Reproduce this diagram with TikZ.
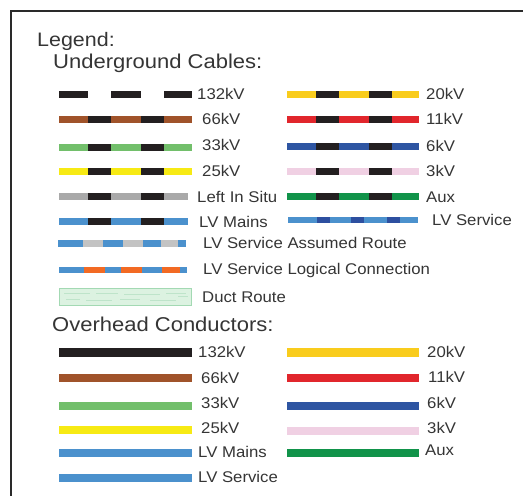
\documentclass[tikz,border=0pt]{standalone}
\usepackage{fontspec}
\setmainfont{Liberation Sans}[FakeStretch=1.08]
\newfontfamily\headfont{Liberation Sans}[FakeStretch=1.1]
\definecolor{txt}{HTML}{353535}
\definecolor{framec}{HTML}{2A2A2A}
\definecolor{blk}{HTML}{231F20}
\definecolor{brn}{HTML}{A0532A}
\definecolor{lgr}{HTML}{72BF6B}
\definecolor{yel}{HTML}{F7EA14}
\definecolor{gold}{HTML}{F9CC1D}
\definecolor{redc}{HTML}{E1262C}
\definecolor{dblu}{HTML}{2E55A2}
\definecolor{pink}{HTML}{F0D0E3}
\definecolor{agrn}{HTML}{11934A}
\definecolor{lvb}{HTML}{4B91CD}
\definecolor{lvdk}{HTML}{2D4FA0}
\definecolor{gry}{HTML}{A9A9A9}
\definecolor{lgry}{HTML}{C3C3C3}
\definecolor{orng}{HTML}{F26A23}
\definecolor{ductf}{HTML}{DCF2E1}
\definecolor{ductd}{HTML}{A3D9B3}
\newcommand{\ugbar}[5]{%
  \fill[#4] (#1,#3-3.5) rectangle (#2,#3+3.5);
  \fill[#5] (#1+29,#3-3.5) rectangle (#1+52,#3+3.5);
  \fill[#5] (#1+82,#3-3.5) rectangle (#1+105,#3+3.5);}
\newcommand{\ohbar}[4]{%
  \fill[#4] (#1,#3-4.2) rectangle (#2,#3+4.2);}
\begin{document}
\begin{tikzpicture}[x=1pt,y=-1pt,
  lab/.style={anchor=base west, inner sep=0pt, text=txt, font=\fontsize{15.5}{18}\selectfont},
  head/.style={anchor=base west, inner sep=0pt, text=txt, font=\headfont\fontsize{20}{24}\selectfont}]
\useasboundingbox (0,0) rectangle (523,496);
\fill[white] (0,0) rectangle (523,496);
\draw[line width=2pt, framec] (11,497) -- (11,11) -- (524,11);
% headings
\node[head, font=\headfont\fontsize{19.5}{24}\selectfont] (legend) at (37,46) {Legend:};
\node[head] (ughead) at (53,68) {Underground Cables:};
\node[head] (ohhead) at (52,331) {Overhead Conductors:};
% underground, left column
\ugbar{59}{192}{94}{blk}{white}
\node[lab] (u132) at (197,99.6) {132kV};
\ugbar{59}{192}{119}{brn}{blk}
\node[lab] (u66) at (202,124.9) {66kV};
\ugbar{59}{192}{147}{lgr}{blk}
\node[lab] (u33) at (202,150.6) {33kV};
\ugbar{59}{192}{171.7}{yel}{blk}
\node[lab] (u25) at (202,176.3) {25kV};
\ugbar{59}{188}{196}{gry}{blk}
\node[lab] (uinsitu) at (197,202.3) {Left In Situ};
\ugbar{59}{188}{221.7}{lvb}{blk}
\node[lab] (umains) at (199,227.9) {LV Mains};
\foreach \a/\b/\c in {58/83/lvb,83/103/lgry,103/123/lvb,123/143/lgry,143/161/lvb,161/178/lgry,178/186/lvb}
  \fill[\c] (\a,243.3-3.3) rectangle (\b,243.3+3.3);
\node[lab] (uassumed) at (203,248.9) {LV Service Assumed Route};
\foreach \a/\b/\c in {59/84/lvb,84/105/orng,105/121/lvb,121/142/orng,142/162/lvb,162/180/orng,180/187/lvb}
  \fill[\c] (\a,270-3.3) rectangle (\b,270+3.3);
\node[lab] (ulogical) at (203,274.9) {LV Service Logical Connection};
\draw[ductd, fill=ductf, line width=1pt] (59.5,288.5) rectangle (191.5,305);
\foreach \a/\b/\y in {64/90/293,96/118/293,124/160/294,166/186/293,66/80/299,86/112/300,120/140/299,150/176/300,178/188/296}
  \draw[ductd!70, line width=0.6pt] (\a,\y) -- (\b,\y);
\node[lab] (uduct) at (202,302.3) {Duct Route};
% underground, right column
\ugbar{287}{419}{94}{gold}{blk}
\node[lab] (u20) at (426,99.6) {20kV};
\ugbar{287}{419}{119.3}{redc}{blk}
\node[lab] (u11) at (426,124.9) {11kV};
\ugbar{287}{419}{146.7}{dblu}{blk}
\node[lab] (u6) at (426,151.6) {6kV};
\ugbar{287}{419}{171.7}{pink}{blk}
\node[lab] (u3) at (426,176.3) {3kV};
\ugbar{287}{419}{196}{agrn}{blk}
\node[lab] (uaux) at (426,202.3) {Aux};
\fill[lvb] (288,220-3.2) rectangle (418,220+3.2);
\foreach \a/\b in {317/330,351/364,387/400}
  \fill[lvdk] (\a,220-3.2) rectangle (\b,220+3.2);
\node[lab] (uservice) at (432,225.6) {LV Service};
% overhead, left column
\ohbar{59}{192}{352.3}{blk}
\node[lab] (o132) at (198,357.3) {132kV};
\ohbar{59}{192}{377.7}{brn}
\node[lab] (o66) at (201,383.2) {66kV};
\ohbar{59}{192}{405.7}{lgr}
\node[lab] (o33) at (201,408.8) {33kV};
\ohbar{59}{192}{430}{yel}
\node[lab] (o25) at (201,433.6) {25kV};
\ohbar{59}{192}{452.7}{lvb}
\node[lab] (omains) at (198,457.1) {LV Mains};
\ohbar{59}{192}{477.7}{lvb}
\node[lab] (oservice) at (198,482.3) {LV Service};
% overhead, right column
\ohbar{287}{419}{352.3}{gold}
\node[lab] (o20) at (427,357.3) {20kV};
\ohbar{287}{419}{377.7}{redc}
\node[lab] (o11) at (428,382.6) {11kV};
\ohbar{287}{419}{405.7}{dblu}
\node[lab] (o6) at (427,408.6) {6kV};
\ohbar{287}{419}{430.7}{pink}
\node[lab] (o3) at (427,433.6) {3kV};
\ohbar{287}{419}{452.7}{agrn}
\node[lab] (oaux) at (425,455.6) {Aux};
\end{tikzpicture}
\end{document}
